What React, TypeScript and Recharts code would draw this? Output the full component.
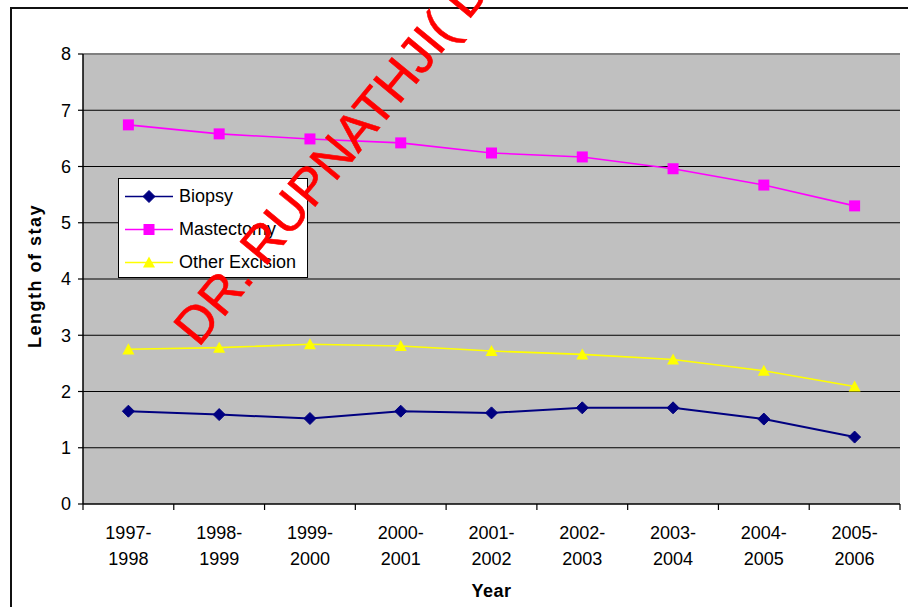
import React from 'react';
import {
  LineChart,
  Line,
  XAxis,
  YAxis,
  CartesianGrid,
  Legend,
  Label,
} from 'recharts';

const YEARS = [
  '1997-1998',
  '1998-1999',
  '1999-2000',
  '2000-2001',
  '2001-2002',
  '2002-2003',
  '2003-2004',
  '2004-2005',
  '2005-2006',
];
const BIOPSY = [1.65, 1.59, 1.52, 1.65, 1.62, 1.71, 1.71, 1.51, 1.19];
const MASTECTOMY = [6.74, 6.58, 6.49, 6.42, 6.24, 6.17, 5.96, 5.67, 5.3];
const OTHER_EXCISION = [2.75, 2.78, 2.84, 2.81, 2.72, 2.66, 2.57, 2.37, 2.09];
const Y_TICKS = [0, 1, 2, 3, 4, 5, 6, 7, 8];
const GRID_VALUES = [1, 2, 3, 4, 5, 6, 7, 8];

const data = YEARS.map((year, i) => ({
  year,
  Biopsy: BIOPSY[i],
  Mastectomy: MASTECTOMY[i],
  'Other Excision': OTHER_EXCISION[i],
}));

const FONT = '"Liberation Sans", Arial, sans-serif';
const W = 908;
const H = 607;
const MARGIN = { top: 54, right: 8, left: 20, bottom: 8 };
const Y_AXIS_W = 63;
const X_AXIS_H = 95;
const BAND = (W - MARGIN.left - MARGIN.right - Y_AXIS_W) / YEARS.length;

const COLORS: Record<string, string> = {
  Biopsy: '#000080',
  Mastectomy: '#FF00FF',
  'Other Excision': '#FFFF00',
};

function Marker({ name, cx, cy }: { name: string; cx: number; cy: number }) {
  const c = COLORS[name];
  if (name === 'Biopsy') {
    const r = 6;
    return (
      <polygon
        points={`${cx},${cy - r} ${cx + r},${cy} ${cx},${cy + r} ${cx - r},${cy}`}
        fill={c}
        stroke={c}
      />
    );
  }
  if (name === 'Mastectomy') {
    const r = 5.5;
    return <rect x={cx - r} y={cy - r} width={2 * r} height={2 * r} fill={c} />;
  }
  const r = 6;
  return (
    <polygon
      points={`${cx},${cy - r} ${cx + r},${cy + r * 0.85} ${cx - r},${cy + r * 0.85}`}
      fill={c}
    />
  );
}

const makeDot = (name: string) => (props: any) => {
  const { cx, cy, index } = props;
  if (cx == null || cy == null) return <g key={`${name}-${index}`} />;
  return (
    <g key={`${name}-${index}`}>
      <Marker name={name} cx={cx} cy={cy} />
    </g>
  );
};

const XTick = (props: any) => {
  const { x, y, payload, index } = props;
  if (!payload || !YEARS.includes(payload.value)) return <g />;
  const off = BAND / 2;
  const [a, b] = String(payload.value).split('-');
  const isLast = index === YEARS.length - 1;
  return (
    <g>
      <line x1={x - off} y1={y} x2={x - off} y2={y + 6} stroke="#000" strokeWidth={1.2} />
      {isLast && (
        <line x1={x + off} y1={y} x2={x + off} y2={y + 6} stroke="#000" strokeWidth={1.2} />
      )}
      <text x={x} y={y + 35} textAnchor="middle" fontSize={18} fontFamily={FONT} fill="#000">
        {a}-
      </text>
      <text x={x} y={y + 61} textAnchor="middle" fontSize={18} fontFamily={FONT} fill="#000">
        {b}
      </text>
    </g>
  );
};

const GridLine = (p: any) => {
  const isTop = p.index === GRID_VALUES.length - 1;
  return (
    <line
      key={`g-${p.index}`}
      x1={p.x1}
      y1={p.y1}
      x2={p.x2}
      y2={p.y2}
      stroke={isTop ? '#808080' : '#000'}
      strokeWidth={isTop ? 2 : 1}
    />
  );
};

const LegendContent = (props: any) => {
  const payload = (props.payload || []).filter((e: any) => COLORS[e.value]);
  return (
    <div
      style={{
        width: 190,
        height: 100,
        boxSizing: 'border-box',
        border: '1px solid #000',
        background: '#fff',
        paddingTop: 1,
      }}
    >
      {payload.map((entry: any) => {
        const name = entry.value as string;
        return (
          <div
            key={name}
            style={{ height: 33, display: 'flex', alignItems: 'center', fontFamily: FONT }}
          >
            <svg width={60} height={33} style={{ display: 'block' }}>
              <line x1={6} y1={16.5} x2={54} y2={16.5} stroke={COLORS[name]} strokeWidth={1.6} />
              <Marker name={name} cx={30} cy={16.5} />
            </svg>
            <span style={{ fontSize: 18, color: '#000', lineHeight: '33px' }}>{name}</span>
          </div>
        );
      })}
    </div>
  );
};

export default function App() {
  return (
    <div
      style={{
        position: 'absolute',
        left: 0,
        top: 0,
        width: W,
        height: H,
        overflow: 'hidden',
        background: '#fff',
      }}
    >
      <div
        style={{
          position: 'absolute',
          left: 10,
          top: 7,
          width: 1200,
          height: 1200,
          borderLeft: '2px solid #111',
          borderTop: '2px solid #111',
        }}
      />
      <div style={{ position: 'absolute', left: 0, top: 0 }}>
        <LineChart width={W} height={H} data={data} margin={MARGIN}>
          <CartesianGrid
            fill="#C0C0C0"
            vertical={false}
            horizontalValues={GRID_VALUES}
            horizontal={GridLine}
          />
          <XAxis
            dataKey="year"
            height={X_AXIS_H}
            interval={0}
            padding={{ left: BAND / 2, right: BAND / 2 }}
            tickLine={false}
            tickSize={0}
            tickMargin={0}
            axisLine={{ stroke: '#000', strokeWidth: 1.5 }}
            tick={<XTick />}
          >
            <Label
              value="Year"
              position="insideBottom"
              offset={2}
              style={{ fontFamily: FONT, fontSize: 18, fontWeight: 'bold', fill: '#000', letterSpacing: 0.5 }}
            />
          </XAxis>
          <YAxis
            width={Y_AXIS_W}
            domain={[0, 8]}
            ticks={Y_TICKS}
            interval={0}
            tickSize={5}
            tickMargin={7}
            tickLine={{ stroke: '#000', strokeWidth: 1.2 }}
            axisLine={{ stroke: '#000', strokeWidth: 1.5 }}
            tick={{ fontFamily: FONT, fontSize: 18, fill: '#000' }}
          >
            <Label
              content={(p: any) => {
                const vb = p.viewBox || { x: 20, y: 54, width: 63, height: 450 };
                const cx = vb.x + 15;
                const cy = vb.y + vb.height / 2 - 3;
                return (
                  <text
                    x={cx}
                    y={cy}
                    transform={`rotate(-90 ${cx} ${cy})`}
                    textAnchor="middle"
                    dominantBaseline="central"
                    fontFamily={FONT}
                    fontSize={18}
                    fontWeight="bold"
                    letterSpacing={1.5}
                    fill="#000"
                  >
                    Length of stay
                  </text>
                );
              }}
            />
          </YAxis>
          <YAxis
            yAxisId="frame"
            orientation="right"
            width={0}
            domain={[0, 8]}
            tick={false}
            tickLine={false}
            axisLine={{ stroke: '#808080', strokeWidth: 2 }}
          />
          <Legend
            layout="horizontal"
            align="center"
            verticalAlign="middle"
            wrapperStyle={{ left: 118, top: 178, width: 190, height: 100 }}
            content={<LegendContent />}
          />
          <Line
            type="linear"
            dataKey="Biopsy"
            stroke={COLORS.Biopsy}
            strokeWidth={2}
            dot={makeDot('Biopsy')}
            activeDot={false}
            isAnimationActive={false}
          />
          <Line
            type="linear"
            dataKey="Mastectomy"
            stroke={COLORS.Mastectomy}
            strokeWidth={1.6}
            dot={makeDot('Mastectomy')}
            activeDot={false}
            isAnimationActive={false}
          />
          <Line
            type="linear"
            dataKey="Other Excision"
            stroke={COLORS['Other Excision']}
            strokeWidth={1.6}
            dot={makeDot('Other Excision')}
            activeDot={false}
            isAnimationActive={false}
          />
        </LineChart>
      </div>
      <svg
        width={W}
        height={H}
        style={{ position: 'absolute', left: 0, top: 0, pointerEvents: 'none' }}
      >
        <text
          x={198.5}
          y={348}
          transform="rotate(-50.5 198.5 348)"
          fontFamily={FONT}
          fontSize={52}
          fill="#FF0000"
          stroke="#FF0000"
          strokeWidth={0.6}
        >
          DR. RUPNATHJI( DR. RUPAK NATH )
        </text>
      </svg>
    </div>
  );
}
